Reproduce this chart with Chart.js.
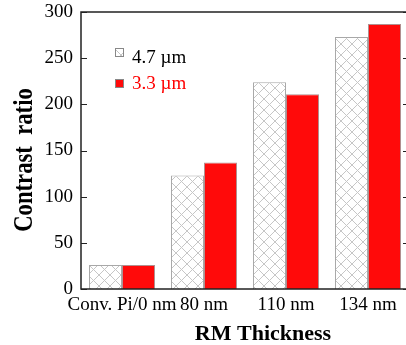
<!DOCTYPE html>
<html>
<head>
<meta charset="utf-8">
<script src="https://cdn.jsdelivr.net/npm/chart.js@4"></script>
<style>
  html, body { margin: 0; padding: 0; overflow: hidden; background: #fff; }
</style>
</head>
<body>
<canvas id="chart" width="412" height="345"></canvas>
<script>
const thickness = ["Conv. Pi/0 nm", "80 nm", "110 nm", "134 nm"];
const ratio47 = [26, 123, 224, 273];
const ratio33 = [26, 137, 211, 287];
const seriesNames = ["4.7 µm", "3.3 µm"];
const yTicks = [0, 50, 100, 150, 200, 250, 300];
const xTitle = "RM Thickness";
const yTitle = "Contrast  ratio";

const serif = "'Liberation Serif', 'Times New Roman', serif";

function hatch() {
    const c = document.createElement("canvas");
    c.width = 11; c.height = 11;
    const g = c.getContext("2d");
    g.fillStyle = "#fff";
    g.fillRect(0, 0, 11, 11);
    g.strokeStyle = "#c6c6c6";
    g.lineWidth = 1;
    g.beginPath();
    g.moveTo(-1, -1); g.lineTo(12, 12);
    g.moveTo(12, -1); g.lineTo(-1, 12);
    g.stroke();
    return g.createPattern(c, "repeat");
}

// frame with inward ticks, legend inside the plot, axis titles
const frame = {
    id: "frame",
    afterDatasetsDraw(chart) {
        const { ctx, chartArea: a, scales: { y } } = chart;
        ctx.save();
        ctx.strokeStyle = "#222";
        ctx.lineWidth = 1.5;
        ctx.strokeRect(a.left, a.top, a.right - a.left, a.bottom - a.top);
        ctx.lineWidth = 1;
        ctx.beginPath();
        y.ticks.forEach(t => {
            const py = Math.round(y.getPixelForValue(t.value)) + 0.5;
            ctx.moveTo(a.left, py); ctx.lineTo(a.left + 6, py);
            ctx.moveTo(a.right, py); ctx.lineTo(a.right - 6, py);
        });
        ctx.stroke();

        const colors = ["#000", "#ff0000"];
        ctx.font = `19px ${serif}`;
        ctx.textBaseline = "alphabetic";
        chart.data.datasets.forEach((ds, i) => {
            const sy = 48 + i * 31;
            ctx.fillStyle = ds.backgroundColor;
            ctx.fillRect(115, sy, 8, 8);
            ctx.strokeStyle = "#888";
            ctx.strokeRect(115.5, sy + 0.5, 8, 8);
            ctx.fillStyle = colors[i];
            ctx.fillText(ds.label, 132, 63 + i * 26);
        });

        ctx.fillStyle = "#000";
        ctx.font = `bold 22px ${serif}`;
        ctx.textAlign = "center";
        ctx.fillText(xTitle, 263, 340);
        // the y title is drawn taller than wide, as in the original figure
        ctx.font = `bold 28px ${serif}`;
        ctx.translate(32, 160);
        ctx.rotate(-Math.PI / 2);
        ctx.scale(0.81, 1);
        ctx.fillText(yTitle, 0, 0);
        ctx.restore();
    }
};

new Chart(document.getElementById("chart"), {
    type: "bar",
    data: {
        labels: thickness,
        datasets: [
            { label: seriesNames[0], data: ratio47, backgroundColor: hatch(), borderColor: "#a8a8a8", borderWidth: 1 },
            { label: seriesNames[1], data: ratio33, backgroundColor: "#ff0a0a", borderColor: "#b09090", borderWidth: 1 }
        ]
    },
    options: {
        responsive: false,
        animation: false,
        devicePixelRatio: 1,
        categoryPercentage: 0.805,
        barPercentage: 1.0,
        layout: { padding: { left: 0, right: 3, top: 12, bottom: 0 } },
        plugins: { legend: { display: false }, tooltip: { enabled: false } },
        scales: {
            x: {
                grid: { display: false, drawTicks: false },
                border: { display: false },
                ticks: { color: "#000", font: { family: serif, size: 19 }, padding: 5, maxRotation: 0, autoSkip: false },
                afterFit: s => { s.height = 56; }
            },
            y: {
                min: 0, max: 300,
                afterBuildTicks: s => { s.ticks = yTicks.map(v => ({ value: v })); },
                grid: { display: false, drawTicks: false },
                border: { display: false },
                ticks: { color: "#000", font: { family: serif, size: 19 }, padding: 8 },
                afterFit: s => { s.width = 81; s.paddingTop = 0; s.paddingBottom = 0; }
            }
        }
    },
    plugins: [frame]
});
</script>
</body>
</html>
